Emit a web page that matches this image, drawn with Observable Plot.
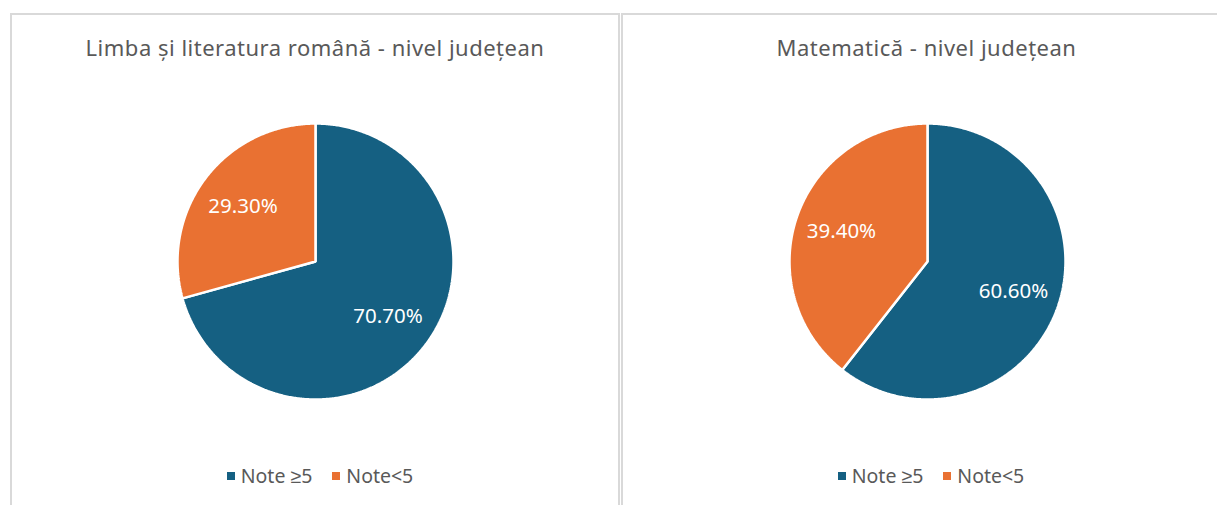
<!DOCTYPE html>
<html>
<head>
<meta charset="utf-8">
<script src="https://cdn.jsdelivr.net/npm/d3@7"></script>
<script src="https://cdn.jsdelivr.net/npm/@observablehq/plot@0.6"></script>
<style>
  body { margin: 0; background: #fff; font-family: "Noto Sans", sans-serif; }
  #root { position: relative; width: 1217px; height: 505px; overflow: hidden; }
  .panel { position: absolute; top: 13px; height: 520px; border: 2px solid #d9d9d9; box-sizing: border-box; background: #fff; }
  .title { position: absolute; left: 0; right: 0; top: 17px; text-align: center; font-size: 22px; letter-spacing: 0.5px; color: #595959; white-space: nowrap; }
  .pie { position: absolute; }
  .legend { position: absolute; left: 0; right: 0; top: 447px; text-align: center; font-size: 19.5px; color: #595959; white-space: nowrap; }
  .legend span.item { display: inline-block; margin: 0 10px; }
  .legend span.sw { display: inline-block; width: 8px; height: 8px; margin-right: 6px; vertical-align: 3px; }
</style>
</head>
<body>
<div id="root"></div>
<script>
const categories = ["Note ≥5", "Note<5"];
const colors = ["#156082", "#E97132"];
const titles = ["Limba și literatura română - nivel județean", "Matematică - nivel județean"];
const valuesRomana = [70.7, 29.3];
const valuesMate = [60.6, 39.4];
const labelsRomana = ["70.70%", "29.30%"];
const labelsMate = ["60.60%", "39.40%"];

const panels = [
  {left: 10, width: 610, title: titles[0], values: valuesRomana, labels: labelsRomana},
  {left: 621, width: 620, title: titles[1], values: valuesMate, labels: labelsMate}
];

const root = document.getElementById("root");
const R = 138, M = 4, S = 2 * R + 2 * M;

panels.forEach((p, pi) => {
  const div = document.createElement("div");
  div.className = "panel";
  div.style.left = p.left + "px";
  div.style.width = p.width + "px";
  root.appendChild(div);

  const t = document.createElement("div");
  t.className = "title";
  t.textContent = p.title;
  if (pi === 1) { t.style.right = "9px"; }
  div.appendChild(t);

  // pie angles (clockwise from 12 o'clock)
  const pie = d3.pie().sort(null).value(d => d.value);
  const arcs = pie(categories.map((c, i) => ({cat: c, value: p.values[i], label: p.labels[i]})));
  const pts = [];
  const lbl = [];
  arcs.forEach(a => {
    const cat = a.data.cat;
    pts.push({cat, x: 0, y: 0});
    const n = Math.max(2, Math.ceil((a.endAngle - a.startAngle) / (Math.PI / 360)));
    for (let k = 0; k <= n; k++) {
      const th = a.startAngle + (a.endAngle - a.startAngle) * k / n;
      pts.push({cat, x: Math.sin(th), y: Math.cos(th)});
    }
    const mid = (a.startAngle + a.endAngle) / 2;
    lbl.push({cat, label: a.data.label, x: 0.66 * Math.sin(mid), y: 0.66 * Math.cos(mid)});
  });

  const chart = Plot.plot({
    width: S, height: S,
    margin: M,
    x: {domain: [-1, 1], axis: null},
    y: {domain: [-1, 1], axis: null},
    color: {domain: categories, range: colors},
    style: {fontFamily: "Noto Sans, sans-serif", background: "transparent"},
    marks: [
      Plot.line(pts, {x: "x", y: "y", z: "cat", fill: "cat", stroke: "white", strokeWidth: 2.5, strokeLinejoin: "miter", curve: "linear-closed"}),
      Plot.text(lbl, {x: "x", y: "y", text: "label", fill: "white", fontSize: 20.5})
    ]
  });
  const holder = document.createElement("div");
  holder.className = "pie";
  const cx = (pi === 0 ? 315 : 927) - p.left - 2;
  holder.style.left = (cx - S / 2) + "px";
  holder.style.top = (261 - 13 - 2 - S / 2) + "px";
  holder.appendChild(chart);
  div.appendChild(holder);

  const lg = document.createElement("div");
  lg.className = "legend";
  if (pi === 1) { lg.style.right = "0px"; } else { lg.style.left = "10px"; }
  categories.forEach((c, i) => {
    const it = document.createElement("span");
    it.className = "item";
    const sw = document.createElement("span");
    sw.className = "sw";
    sw.style.background = colors[i];
    it.appendChild(sw);
    it.appendChild(document.createTextNode(c));
    lg.appendChild(it);
  });
  div.appendChild(lg);
});
</script>
</body>
</html>
